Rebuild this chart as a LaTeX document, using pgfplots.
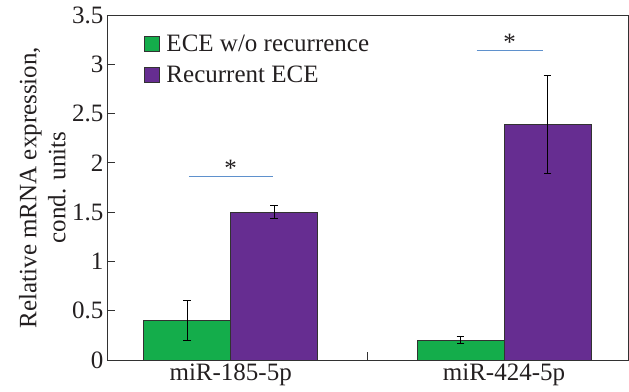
\documentclass[border=0pt]{standalone}
\usepackage{fontspec}
\setmainfont{Liberation Serif}
\usepackage{pgfplots}
\pgfplotsset{compat=1.18}
\definecolor{cgreen}{RGB}{20,173,75}
\definecolor{cpurple}{RGB}{102,45,145}
\definecolor{sigblue}{RGB}{95,145,205}
\definecolor{framec}{RGB}{50,50,50}
\definecolor{txt}{RGB}{35,31,32}
\begin{document}
\begin{tikzpicture}
\path[use as bounding box] (-107bp,-32bp) rectangle (522bp,360bp);
\begin{axis}[
  at={(0,0)}, anchor=south west,
  scale only axis, width=521bp, height=345bp,
  font=\fontsize{25bp}{29bp}\selectfont,
  /pgf/number format/assume math mode=true,
  xmin=-0.4526, xmax=1.4537, ymin=0, ymax=3.5,
  ytick={0,0.5,1,1.5,2,2.5,3,3.5},
  yticklabels={0,0.5,1,1.5,2,2.5,3,3.5},
  xtick={0.5}, xticklabels={},
  extra x ticks={0,1},
  extra x tick labels={miR-185-5p,miR-424-5p},
  extra x tick style={major tick length=0pt},
  xtick pos=bottom, ytick pos=left,
  tick align=inside, major tick length=8bp,
  tick style={framec, line width=0.8bp},
  axis line style={framec, line width=0.8bp},
  ticklabel style={text=txt},
  ylabel={Relative mRNA expression,\\cond. units},
  ylabel style={align=center, text=txt, inner sep=0pt},
  ylabel shift=3bp,
  legend style={at={(axis description cs:0,1)}, anchor=north west,
    xshift=34bp, yshift=-16bp, draw=none, fill=none,
    font=\fontsize{25bp}{29bp}\selectfont, text=txt, row sep=9bp},
  legend cell align=left,
  legend image code/.code={\draw[#1,/tikz/.cd,draw=framec,line width=0.6bp] (0bp,-7.5bp) rectangle (15bp,7.5bp); \path[draw=none,fill=none] (15bp,0bp) -- (20bp,0bp);},
]
\addplot[ybar, bar width=0.318, bar shift=0pt, fill=cgreen, draw=framec, line width=0.6bp,
  error bars/.cd, y dir=both, y explicit,
  error bar style={black, line width=0.8bp},
  error mark options={rotate=90, mark size=3.8bp, black, line width=0.8bp}]
  coordinates {(-0.159,0.40) +- (0,0.20) (0.841,0.20) +- (0,0.035)};
\addlegendentry{ECE w/o recurrence}
\addplot[ybar, bar width=0.318, bar shift=0pt, fill=cpurple, draw=framec, line width=0.6bp,
  error bars/.cd, y dir=both, y explicit,
  error bar style={black, line width=0.8bp},
  error mark options={rotate=90, mark size=3.8bp, black, line width=0.8bp}]
  coordinates {(0.159,1.50) +- (0,0.065) (1.159,2.39) +- (0,0.50)};
\addlegendentry{Recurrent ECE}
\addplot[forget plot, sigblue, line width=1.2bp] coordinates {(-0.153,1.86) (0.154,1.86)};
\addplot[forget plot, sigblue, line width=1.2bp] coordinates {(0.90,3.138) (1.144,3.138)};
\node[anchor=base, text=txt, inner sep=0pt] at (axis cs:0,1.86) {*};
\node[anchor=base, text=txt, inner sep=0pt] at (axis cs:1.021,3.138) {*};
\end{axis}
\end{tikzpicture}
\end{document}
